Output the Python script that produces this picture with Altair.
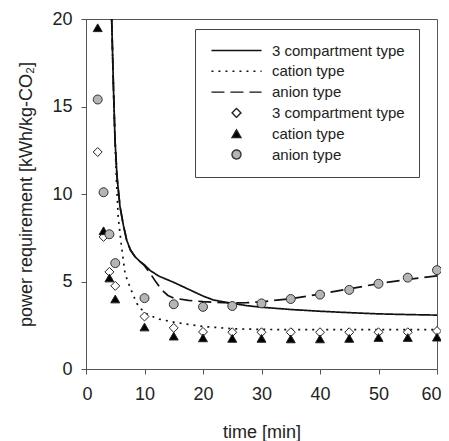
import altair as alt
import pandas as pd

# ---- measured points ----
pt_time = [2, 3, 4, 5, 10, 15, 20, 25, 30, 35, 40, 45, 50, 55, 60]
pt_3comp = [12.4, 7.55, 5.55, 4.75, 3.0, 2.35, 2.12, 2.1, 2.1, 2.1, 2.1, 2.1, 2.1, 2.1, 2.17]
pt_cation = [19.5, 7.9, 5.2, 4.0, 2.4, 1.88, 1.78, 1.75, 1.75, 1.72, 1.72, 1.75, 1.8, 1.8, 1.82]
pt_anion = [15.4, 10.1, 7.7, 6.05, 4.05, 3.7, 3.55, 3.6, 3.75, 4.0, 4.25, 4.52, 4.87, 5.22, 5.65]

# ---- model curves ----
line_3comp_t = [4.39, 4.7, 4.96, 5.3, 5.81, 6.4, 6.95, 7.6, 8.38, 9.2, 10, 11, 12.5, 15, 16.6,
                20, 21.8, 25, 27.5, 30, 35, 40, 45, 50, 55, 60]
line_3comp_v = [20, 16.0, 13.1, 11.0, 9.28, 8.2, 7.37, 6.8, 6.42, 6.15, 5.95, 5.62, 5.3, 4.95, 4.7,
                4.17, 3.94, 3.75, 3.62, 3.53, 3.4, 3.3, 3.22, 3.15, 3.11, 3.08]

line_cation_t = [4.39, 4.7, 4.96, 5.2, 5.5, 6.0, 6.67, 7.2, 7.8, 8.67, 9.5, 10.6, 12.5, 15, 17.5,
                 20, 22.5, 25, 30, 35, 40, 45, 50, 55, 60]
line_cation_v = [20, 16.0, 13.1, 10.8, 8.7, 7.2, 5.47, 4.95, 4.45, 3.75, 3.4, 3.1, 2.85, 2.68, 2.55,
                 2.43, 2.37, 2.3, 2.26, 2.25, 2.25, 2.25, 2.25, 2.25, 2.25]

line_anion_t = [4.39, 4.7, 4.96, 5.3, 5.81, 6.4, 6.95, 7.6, 8.38, 9.2, 10, 11, 12, 13, 14, 15,
                17.5, 20, 22.5, 25, 27.5, 30, 35, 40, 45, 50, 55, 60]
line_anion_v = [20, 16.0, 13.1, 11.0, 9.28, 8.2, 7.37, 6.8, 6.42, 6.15, 5.9, 5.45, 4.95, 4.5, 4.2, 4.05,
                3.92, 3.85, 3.8, 3.78, 3.79, 3.84, 4.02, 4.28, 4.58, 4.88, 5.12, 5.32]

series_keys = ["L1", "L2", "L3", "P1", "P2", "P3"]
series_names = ["3 compartment type", "cation type", "anion type",
                "3 compartment type", "cation type", "anion type"]
x_ticks = [0, 10, 20, 30, 40, 50, 60]
y_ticks = [0, 5, 10, 15, 20]

# ---- tables ----
line_df = pd.concat([
    pd.DataFrame({"t": line_3comp_t, "v": line_3comp_v, "series": "L1"}),
    pd.DataFrame({"t": line_cation_t, "v": line_cation_v, "series": "L2"}),
    pd.DataFrame({"t": line_anion_t, "v": line_anion_v, "series": "L3"}),
])
pt_df = pd.concat([
    pd.DataFrame({"t": pt_time, "v": pt_3comp, "series": "P1"}),
    pd.DataFrame({"t": pt_time, "v": pt_cation, "series": "P2"}),
    pd.DataFrame({"t": pt_time, "v": pt_anion, "series": "P3"}),
])

LINE_SYM = "M-5.6,0H5.6"
dash_range = [[1, 0], [2, 5], [13, 6], [1, 0], [1, 0], [1, 0]]
shape_range = [LINE_SYM, LINE_SYM, LINE_SYM, "diamond", "triangle-up", "circle"]
fill_range = ["transparent", "transparent", "transparent", "white", "black", "#b5b5b5"]
stroke_range = ["#111", "#111", "#111", "#222", "#222", "#333"]

label_expr = ("datum.label == 'L1' || datum.label == 'P1' ? '" + series_names[0] + "' : "
              "datum.label == 'L2' || datum.label == 'P2' ? '" + series_names[1] + "' : '"
              + series_names[2] + "'")


def leg():
    return alt.Legend(title=None, labelExpr=label_expr)


xs = alt.Scale(domain=[0, 60], nice=False, zero=False)
ys = alt.Scale(domain=[0, 20], nice=False)
xax = alt.Axis(values=x_ticks, title="time [min]", labelPadding=11, titlePadding=20,
               labelFlush=True, labelFlushOffset=4, ticks=True)
yax = alt.Axis(values=y_ticks, title="power requirement [kWh/kg-CO₂]", labelPadding=9,
               titlePadding=16, labelFlush=False, ticks=True)

lines = alt.Chart(line_df).mark_line(strokeWidth=1.7).encode(
    x=alt.X("t:Q", scale=xs, axis=xax),
    y=alt.Y("v:Q", scale=ys, axis=yax),
    stroke=alt.Stroke("series:N", scale=alt.Scale(domain=series_keys, range=stroke_range), legend=leg()),
    strokeDash=alt.StrokeDash("series:N", scale=alt.Scale(domain=series_keys, range=dash_range), legend=leg()),
)

points = alt.Chart(pt_df).mark_point(filled=True, size=80, strokeWidth=1, opacity=1).encode(
    x=alt.X("t:Q", scale=xs, axis=xax),
    y=alt.Y("v:Q", scale=ys, axis=yax),
    shape=alt.Shape("series:N", scale=alt.Scale(domain=series_keys, range=shape_range), legend=leg()),
    fill=alt.Fill("series:N", scale=alt.Scale(domain=series_keys, range=fill_range), legend=leg()),
    stroke=alt.Stroke("series:N", scale=alt.Scale(domain=series_keys, range=stroke_range), legend=leg()),
)

chart = alt.layer(lines, points).properties(
    width=351, height=350,
    autosize=alt.AutoSizeParams(type="none"),
    padding={"left": 78, "top": 11, "right": 4, "bottom": 72},
).configure_view(
    stroke="#555", strokeWidth=1,
).configure_axis(
    grid=False, domainColor="#555", tickColor="#555", tickSize=5, tickWidth=1, domainWidth=1,
    labelFont="Liberation Sans", labelFontSize=18, labelColor="#222",
    titleFont="Liberation Sans", titleFontSize=18, titleFontWeight="normal", titleColor="#222",
).configure_legend(
    orient="none", legendX=109, legendY=10,
    strokeColor="#444", strokeWidth=1, padding=14, fillColor="white",
    labelFont="Liberation Sans", labelFontSize=15, labelColor="#222",
    symbolSize=80, symbolStrokeWidth=1.4, symbolOpacity=1,
    symbolOffset=20, labelOffset=28, rowPadding=4.8, labelLimit=300,
)

chart.save("out.html", embed_options={"renderer": "svg", "actions": False})
